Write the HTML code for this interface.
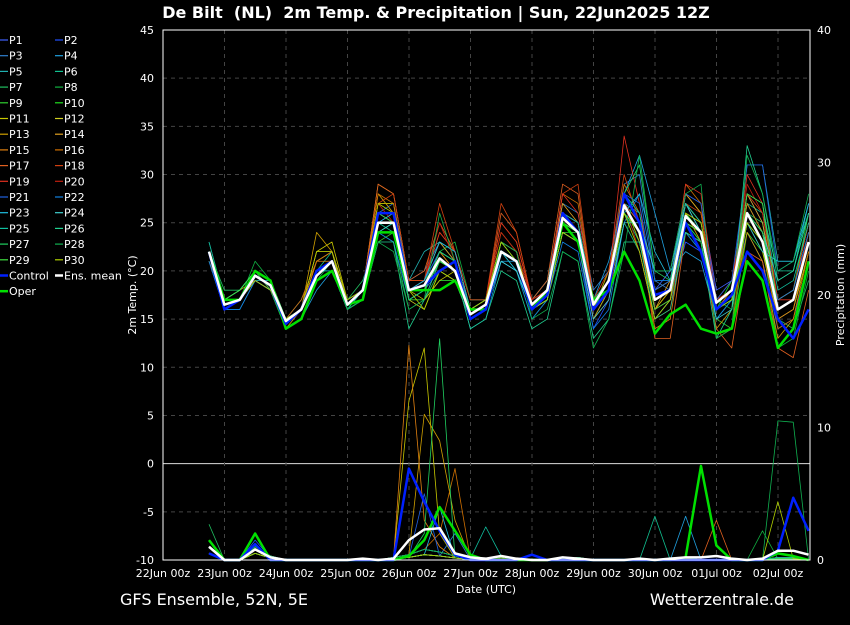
<!DOCTYPE html>
<html><head><meta charset="utf-8"><style>
body{margin:0;background:#000;width:850px;height:620px;overflow:hidden;font-family:"Liberation Sans","DejaVu Sans",sans-serif}
svg text{font-family:"DejaVu Sans","Liberation Sans",sans-serif}
</style></head><body>
<svg id="c" width="850" height="620" xmlns="http://www.w3.org/2000/svg"></svg>
<script>
const memberTemps=[
[22,16,17,19,18,15,16,20,21,17,18,25,26,18,19,22,21,16,17,23,22,17,18,26,25,15,18,27,25,18,20,28,27,18,19,27,24,17,18,24],
[21,16,17,20,19,15,16,19,20,16,17,24,24,17,18,20,19,15,16,21,20,16,17,24,23,14,17,25,22,15,17,23,22,16,17,24,21,14,15,21],
[23,17,18,20,19,15,17,21,22,17,18,26,27,19,20,23,22,17,17,23,22,17,19,27,26,18,20,29,30,19,18,27,25,16,18,28,25,17,18,25],
[22,16,16,19,18,14,15,18,20,16,17,24,25,18,19,22,21,16,16,21,21,16,18,25,24,17,21,28,32,26,20,22,21,15,17,25,23,15,16,22],
[22,17,17,19,19,15,16,20,21,17,18,26,26,19,22,23,21,16,17,23,21,17,19,26,25,17,19,27,26,18,19,26,24,17,18,31,31,21,21,26],
[23,17,18,20,18,15,16,20,22,16,18,25,24,17,18,21,20,15,16,22,20,16,17,25,23,16,18,26,23,16,17,25,24,16,17,27,26,20,20,27],
[22,18,18,20,19,15,16,19,21,17,19,24,23,16,17,20,19,15,16,21,20,15,17,24,23,15,18,25,22,15,17,24,22,15,17,26,25,15,14,19],
[21,17,17,21,19,14,15,19,20,16,18,24,25,17,18,22,23,17,17,23,21,16,18,26,24,16,19,28,25,17,18,26,25,17,16,25,23,12,13,20],
[22,17,17,20,19,15,16,20,21,16,17,23,24,17,17,19,19,15,16,22,21,16,17,24,24,16,19,27,24,17,18,25,23,15,14,24,22,17,18,26],
[22,17,18,20,18,14,16,20,21,17,18,25,25,18,19,21,20,16,16,22,21,16,18,25,24,16,19,26,24,16,18,26,24,16,19,27,24,16,17,23],
[22,16,17,19,18,15,16,22,23,17,18,27,27,18,17,19,20,15,16,23,22,16,18,26,25,16,20,27,23,16,18,28,26,16,17,25,22,15,16,22],
[22,17,17,20,18,15,16,21,22,16,17,26,26,17,16,20,19,16,17,22,21,16,18,25,24,17,19,26,24,18,19,27,25,17,18,26,24,16,17,24],
[21,17,18,19,18,15,16,24,22,17,18,28,26,18,18,22,20,15,16,22,21,16,17,25,23,15,18,27,24,16,18,26,23,14,16,24,21,13,15,22],
[22,17,17,20,19,15,16,22,22,17,18,29,28,19,19,23,21,16,17,24,22,17,18,27,25,17,19,28,25,16,19,28,26,17,18,28,25,17,18,25],
[22,16,17,19,18,14,16,21,21,17,18,26,26,18,18,22,20,15,16,22,21,16,17,25,24,16,18,27,24,14,15,25,24,16,18,27,24,15,16,23],
[22,17,17,20,18,15,17,21,22,17,18,28,27,18,19,24,22,16,17,25,23,17,18,28,27,17,19,29,26,17,18,29,27,13,14,26,23,14,15,22],
[22,16,17,19,18,15,16,20,21,17,18,29,28,19,20,25,22,16,17,26,24,17,19,29,28,17,19,27,25,13,13,24,23,14,12,22,21,12,11,18],
[22,17,17,20,19,15,16,20,21,17,18,27,28,19,19,27,22,17,17,27,24,17,18,28,29,17,20,30,25,17,18,27,26,17,19,28,26,17,18,25],
[22,17,17,20,18,15,16,20,21,17,18,26,26,18,19,24,22,16,17,25,23,17,18,28,26,17,19,34,27,16,17,29,28,17,18,30,27,17,17,24],
[22,17,17,19,18,15,16,20,21,17,18,27,25,18,19,25,21,16,17,24,22,17,18,26,25,15,17,27,22,15,16,26,25,17,18,29,26,16,17,24],
[22,16,17,19,18,15,16,20,21,17,18,26,25,18,19,22,21,15,16,22,21,16,18,26,25,16,19,28,27,18,19,28,27,17,19,31,31,20,21,27],
[21,16,16,19,18,14,15,19,20,16,17,24,23,17,18,21,20,14,15,21,20,15,17,23,22,14,16,25,28,19,19,24,22,15,17,26,23,17,18,24],
[22,16,17,19,18,15,16,20,20,16,17,25,26,18,19,23,22,16,17,22,20,16,17,25,24,16,18,26,28,22,19,27,24,16,17,25,22,21,21,27],
[22,17,17,20,19,15,16,19,20,16,17,24,25,17,18,21,20,15,16,21,20,16,17,24,23,15,17,25,25,20,20,27,24,15,16,26,24,19,20,26],
[22,17,18,20,19,15,16,20,21,16,18,25,25,17,18,22,21,16,17,22,21,16,18,26,25,17,19,28,26,17,18,27,25,16,17,28,27,18,19,25],
[22,17,18,20,19,15,16,20,21,16,17,23,23,14,17,21,20,14,15,20,19,14,15,22,21,13,15,23,23,15,16,24,23,13,16,33,28,19,20,26],
[22,17,17,20,19,14,15,19,20,16,17,24,24,17,18,22,21,15,16,22,21,16,17,25,24,16,19,28,31,20,19,25,23,16,17,26,24,16,17,23],
[22,17,17,20,18,14,15,19,20,16,17,23,22,16,17,26,21,15,16,23,22,15,16,22,21,12,15,22,32,20,20,28,29,13,14,32,28,20,21,28],
[22,17,18,20,19,15,16,20,21,17,18,26,25,18,18,21,20,16,17,22,21,16,18,25,24,16,18,26,24,16,17,25,24,16,17,28,27,16,17,23],
[22,17,17,19,18,15,16,22,22,17,18,27,26,18,16,20,19,16,17,23,21,16,17,24,23,16,18,26,22,15,17,26,25,16,17,25,23,16,17,23]];
const controlTemp=[22,16,17,19.5,18.5,14.5,16,20,21,16.5,18,26,26,18,18.5,20,21,15,16,22,21,16,17.5,26,24,16,18,28,25,17.5,18,25,22,16,17.5,22,20,15,13,16];
const operTemp=[22,17,17,20,19,14,15,19,20,16.5,17,24,24,18,18,18,19,16,16,22,21,16,18,25,23,17,18,22,19,13.5,15.5,16.5,14,13.5,14,21,19,12,14,21];
const meanTemp=[22,16.5,17,19.5,18.5,14.8,16,19.5,21,16.5,18,25,25,18,18.5,21.3,20,15.5,16.5,22,21,16.5,18,25.5,24,16.5,19,26.8,24,17,18,25.7,24,16.7,18,26,23,16,17,23];
const basePrecip=[1,0,0,1,0.3,0,0,0,0,0,0.1,0,0.2,0.4,0.8,0.6,0.3,0.1,0,0.3,0,0,0,0,0.2,0,0,0,0,0,0,0.2,0,0,0,0,0,0.2,0.2,0];
// [member, timeIndex, mm]
const precipSpikes=[[14,13,16.2],[14,14,3],[14,15,1],[10,13,12],[10,14,16],[10,15,2],[12,14,11],[12,15,9],[12,16,3],[26,15,16.7],[26,14,2],[27,37,10.5],[27,38,10.4],[5,29,3.3],[3,31,3.3],[29,37,4.4],[15,16,6.9],[15,15,2],[6,0,2.7],[8,3,2],[2,16,2],[20,14,5],[22,15,4],[16,33,3],[1,3,1.5],[24,18,2.5],[7,36,2.2]];
const controlPrecip=[0.5,0,0,1.2,0,0,0,0,0,0,0,0,0,6.9,4.4,2.2,0.4,0,0,0,0,0.4,0,0,0,0,0,0,0,0,0,0,0,0,0,0,0,0.7,4.7,2.2];
const operPrecip=[1.5,0,0,2,0,0,0,0,0,0,0,0,0,0.3,1.5,4,2.2,0.4,0,0,0,0,0,0,0,0,0,0,0,0,0,0.2,7.1,1.1,0,0,0,0.5,0.3,0];
const meanPrecip=[1,0,0,0.8,0.2,0,0,0,0,0,0.1,0,0.1,1.5,2.3,2.4,0.5,0.2,0.1,0.3,0.1,0,0,0.2,0.1,0,0,0,0.1,0,0.1,0.2,0.2,0.3,0.1,0,0.1,0.7,0.7,0.4];
const tempTicks=[-10,-5,0,5,10,15,20,25,30,35,40,45];
const precipTicks=[0,10,20,30,40];
const dayLabels=["22Jun 00z","23Jun 00z","24Jun 00z","25Jun 00z","26Jun 00z","27Jun 00z","28Jun 00z","29Jun 00z","30Jun 00z","01Jul 00z","02Jul 00z"];
const colors=['#4060ff','#2050ff','#3080d0','#20a0e0','#20b0b0','#10c090','#20c060','#10b040','#30d030','#20e020','#c8c800','#d0d020','#d0a000','#e0a020','#e08010','#d07000','#e06020','#d04010','#e03020','#c02010','#2060e0','#1080e0','#20c0e0','#40d0d0','#10c0a0','#20d090','#20d060','#10b050','#40e040','#b0d000'];

const NS="http://www.w3.org/2000/svg",svg=document.getElementById('c');
const L=163,R=810,T=30,B=560;
const yT=v=>B-(v+10)*(B-T)/55;
const yP=v=>B-v*(B-T)/40;
const xI=i=>L+46+i*15.375;
const xD=d=>L+d*61.5;
function mk(tag,at,parent){const e=document.createElementNS(NS,tag);for(const k in at)e.setAttribute(k,at[k]);(parent||svg).appendChild(e);return e;}
function txt(s,at){const e=mk('text',at);e.textContent=s;return e;}

tempTicks.forEach(v=>{const g=mk('line',{x1:L,x2:R,y1:yT(v),y2:yT(v),stroke:v===0?'#ddd':'#444','stroke-dasharray':v===0?'':'4,4','stroke-width':1});


const t=txt(String(v),{x:154,y:yT(v)+4,fill:'#fff','font-size':11,'text-anchor':'end'});

});
dayLabels.forEach((s,d)=>{const g=mk('line',{x1:xD(d),x2:xD(d),y1:T,y2:B,stroke:'#444','stroke-dasharray':'4,4'});


const t=txt(s,{x:xD(d),y:577,fill:'#fff','font-size':11,'text-anchor':'middle'});

});
precipTicks.forEach(v=>{const t=txt(String(v),{x:817,y:yP(v)+4,fill:'#fff','font-size':11});

});

function poly(vals,yf,col,w,name){const p=mk('polyline',{points:vals.map((v,i)=>xI(i)+','+yf(v)).join(' '),fill:'none',stroke:col,'stroke-width':w,'stroke-linejoin':'round'});

}
memberTemps.forEach((a,m)=>poly(a,yT,colors[m],0.8,'temp-line-p'+(m+1)));
memberTemps.forEach((a,m)=>{const pr=basePrecip.map(v=>v*(m%3===0?1:0.5));precipSpikes.forEach(s=>{if(s[0]===m)pr[s[1]]=s[2];});poly(pr,yP,colors[m],0.8,'precip-line-p'+(m+1));});
poly(operTemp,yT,'#00e000',2.5,'temp-line-oper');
poly(operPrecip,yP,'#00e000',2.5,'precip-line-oper');
poly(controlTemp,yT,'#0020ff',2.5,'temp-line-control');
poly(controlPrecip,yP,'#0020ff',2.5,'precip-line-control');
poly(meanTemp,yT,'#fff',2.5,'temp-line-mean');
poly(meanPrecip,yP,'#fff',2.5,'precip-line-mean');

const fr=mk('rect',{x:L,y:T,width:R-L,height:B-T,fill:'none',stroke:'#fff','stroke-width':1});



const names=[];for(let i=1;i<=30;i++)names.push('P'+i);
const legCols=colors.concat(['#0020ff','#fff','#00e000']);names.push('Control','Ens. mean','Oper');
names.forEach((n,i)=>{const col=i<32?i%2:0,row=i<32?Math.floor(i/2):16;const x=col?55:0,y=40+row*15.7;
const g=mk('g',{});
mk('line',{x1:x,x2:x+8,y1:y,y2:y,stroke:legCols[i],'stroke-width':i>=30?2.5:1.2},g);
const t=mk('text',{x:x+9,y:y+4,fill:'#fff','font-size':11},g);t.textContent=n;});

let t;
t=txt('De Bilt  (NL)  2m Temp. & Precipitation | Sun, 22Jun2025 12Z',{x:436,y:18,fill:'#fff','font-size':16,'font-weight':'bold','text-anchor':'middle',style:'white-space:pre'});

t=txt('2m Temp. (°C)',{x:0,y:0,fill:'#fff','font-size':11,'text-anchor':'middle',transform:'translate(136,295) rotate(-90)'});

t=txt('Precipitation (mm)',{x:0,y:0,fill:'#fff','font-size':11,'text-anchor':'middle',transform:'translate(844,295) rotate(-90)'});

t=txt('Date (UTC)',{x:486,y:593,fill:'#fff','font-size':11,'text-anchor':'middle'});

t=txt('GFS Ensemble, 52N, 5E',{x:120,y:605,fill:'#fff','font-size':16});

t=txt('Wetterzentrale.de',{x:794,y:605,fill:'#fff','font-size':16,'text-anchor':'end'});

</script>
</body></html>
